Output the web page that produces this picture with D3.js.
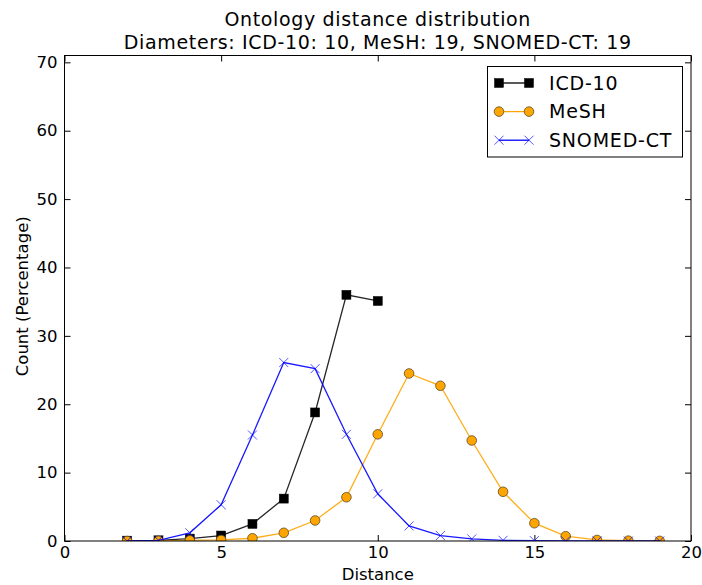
<!DOCTYPE html>
<html>
<head>
<meta charset="utf-8">
<script src="https://cdn.jsdelivr.net/npm/d3@7/dist/d3.min.js"></script>
<style>
  html, body { margin: 0; padding: 0; background: #fff; }
  svg { display: block; font-family: "DejaVu Sans", sans-serif; }
</style>
</head>
<body>
<svg id="chart" width="702" height="585"></svg>
<script>
// Distance values (x) and percentage counts per ontology
const icdDistance = [2, 3, 4, 5, 6, 7, 8, 9, 10];
const icdCount = [0.05, 0.1, 0.35, 0.8, 2.5, 6.2, 18.8, 36.0, 35.1];

const meshDistance = [2, 3, 4, 5, 6, 7, 8, 9, 10, 11, 12, 13, 14, 15, 16, 17, 18, 19];
const meshCount = [0.0, 0.02, 0.1, 0.15, 0.4, 1.2, 3.0, 6.4, 15.6, 24.5, 22.7, 14.7, 7.2, 2.6, 0.7, 0.15, 0.05, 0.02];

const snomedDistance = [2, 3, 4, 5, 6, 7, 8, 9, 10, 11, 12, 13, 14, 15, 16, 17, 18, 19];
const snomedCount = [0.0, 0.1, 1.2, 5.3, 15.5, 26.1, 25.2, 15.6, 6.9, 2.2, 0.8, 0.3, 0.1, 0.05, 0.02, 0.01, 0.0, 0.0];

const xTicks = [0, 5, 10, 15, 20];
const yTicks = [0, 10, 20, 30, 40, 50, 60, 70];

const seriesNames = ["ICD-10", "MeSH", "SNOMED-CT"];
const titleLines = ["Ontology distance distribution", "Diameters: ICD-10: 10, MeSH: 19, SNOMED-CT: 19"];

const svg = d3.select("#chart");
const m = { left: 64.5, right: 691, top: 55.5, bottom: 541 };

const x = d3.scaleLinear().domain([0, 20]).range([m.left, m.right]);
const y = d3.scaleLinear().domain([0, 71]).range([m.bottom, m.top]);

const fontSize = 16.5;
const tickLen = 6;

// Clip region for plot
svg.append("defs").append("clipPath").attr("id", "plotclip")
  .append("rect").attr("x", m.left).attr("y", m.top - 6)
  .attr("width", m.right - m.left).attr("height", m.bottom - m.top + 6);

// Axes with inward ticks on all four sides
const axisStyle = g => {
  g.select(".domain").remove();
  g.selectAll(".tick line").attr("stroke", "#000").attr("stroke-width", 1);
  g.selectAll(".tick text").attr("fill", "#000").style("font-size", fontSize + "px")
    .style("font-family", "DejaVu Sans, sans-serif");
};

svg.append("g").attr("transform", `translate(0,${m.bottom})`)
  .call(d3.axisBottom(x).tickValues(xTicks).tickFormat(d3.format("d")).tickSizeInner(-tickLen).tickPadding(5))
  .call(axisStyle);
svg.append("g").attr("transform", `translate(0,${m.top})`)
  .call(d3.axisTop(x).tickValues(xTicks).tickFormat("").tickSizeInner(-tickLen))
  .call(axisStyle);
svg.append("g").attr("transform", `translate(${m.left},0)`)
  .call(d3.axisLeft(y).tickValues(yTicks).tickFormat(d3.format("d")).tickSizeInner(-tickLen).tickPadding(7))
  .call(axisStyle);
svg.append("g").attr("transform", `translate(${m.right},0)`)
  .call(d3.axisRight(y).tickValues(yTicks).tickFormat("").tickSizeInner(-tickLen))
  .call(axisStyle);

// Series
const series = [
  { name: seriesNames[0], xs: icdDistance, ys: icdCount, color: "#000000", marker: "square" },
  { name: seriesNames[1], xs: meshDistance, ys: meshCount, color: "#FFA500", marker: "circle" },
  { name: seriesNames[2], xs: snomedDistance, ys: snomedCount, color: "#0000FF", marker: "x" }
];

function drawMarker(g, kind, cx, cy, color) {
  if (kind === "square") {
    g.append("rect").attr("x", cx - 4.5).attr("y", cy - 4.5).attr("width", 9).attr("height", 9)
      .attr("fill", "#000").attr("stroke", "#000").attr("stroke-width", 0.5);
  } else if (kind === "circle") {
    g.append("circle").attr("cx", cx).attr("cy", cy).attr("r", 4.8)
      .attr("fill", color).attr("stroke", "#5a4a2a").attr("stroke-width", 0.8);
  } else {
    const s = 4.5;
    g.append("path").attr("d", `M${cx - s},${cy - s}L${cx + s},${cy + s}M${cx - s},${cy + s}L${cx + s},${cy - s}`)
      .attr("stroke", color).attr("stroke-width", 0.9).attr("fill", "none").attr("stroke-opacity", 0.75);
  }
}

const plot = svg.append("g").attr("clip-path", "url(#plotclip)");
const line = d3.line();
series.forEach(s => {
  const pts = s.xs.map((d, i) => [x(d), y(s.ys[i])]);
  plot.append("path").attr("d", line(pts)).attr("fill", "none")
    .attr("stroke", s.color).attr("stroke-width", 1.3)
    .attr("stroke-opacity", s.marker === "square" ? 0.85 : 0.9);
  const mg = plot.append("g");
  pts.forEach(p => drawMarker(mg, s.marker, p[0], p[1], s.color));
});

// Plot frame
svg.append("rect").attr("x", m.left).attr("y", m.top)
  .attr("width", m.right - m.left).attr("height", m.bottom - m.top)
  .attr("fill", "none").attr("stroke", "#000").attr("stroke-width", 1);

// Legend
const lg = svg.append("g");
lg.append("rect").attr("x", 487.5).attr("y", 66.5).attr("width", 195).attr("height", 90.5)
  .attr("fill", "#fff").attr("stroke", "#000").attr("stroke-width", 1);
series.forEach((s, i) => {
  const ly = 83 + i * 28.6;
  lg.append("line").attr("x1", 499).attr("x2", 529).attr("y1", ly).attr("y2", ly)
    .attr("stroke", s.color).attr("stroke-width", 1.3);
  drawMarker(lg, s.marker, 499, ly, s.color);
  drawMarker(lg, s.marker, 529, ly, s.color);
  lg.append("text").attr("x", 549).attr("y", ly).attr("dy", "0.36em")
    .style("font-size", "19px").style("letter-spacing", "0.8px").attr("fill", "#000").text(s.name);
});

// Titles and axis labels
const cx = (m.left + m.right) / 2;
svg.append("text").attr("x", cx).attr("y", 25.5).attr("text-anchor", "middle")
  .style("font-size", "19px").style("letter-spacing", "0.65px").attr("fill", "#000").text(titleLines[0]);
svg.append("text").attr("x", cx).attr("y", 48.5).attr("text-anchor", "middle")
  .style("font-size", "19px").style("letter-spacing", "0.65px").attr("fill", "#000").text(titleLines[1]);
svg.append("text").attr("x", cx).attr("y", 579.5).attr("text-anchor", "middle")
  .style("font-size", fontSize + "px").attr("fill", "#000").text("Distance");
svg.append("text").attr("transform", `translate(27.5,${(m.top + m.bottom) / 2 - 2}) rotate(-90)`)
  .attr("text-anchor", "middle").style("font-size", fontSize + "px").attr("fill", "#000")
  .text("Count (Percentage)");
</script>
</body>
</html>
